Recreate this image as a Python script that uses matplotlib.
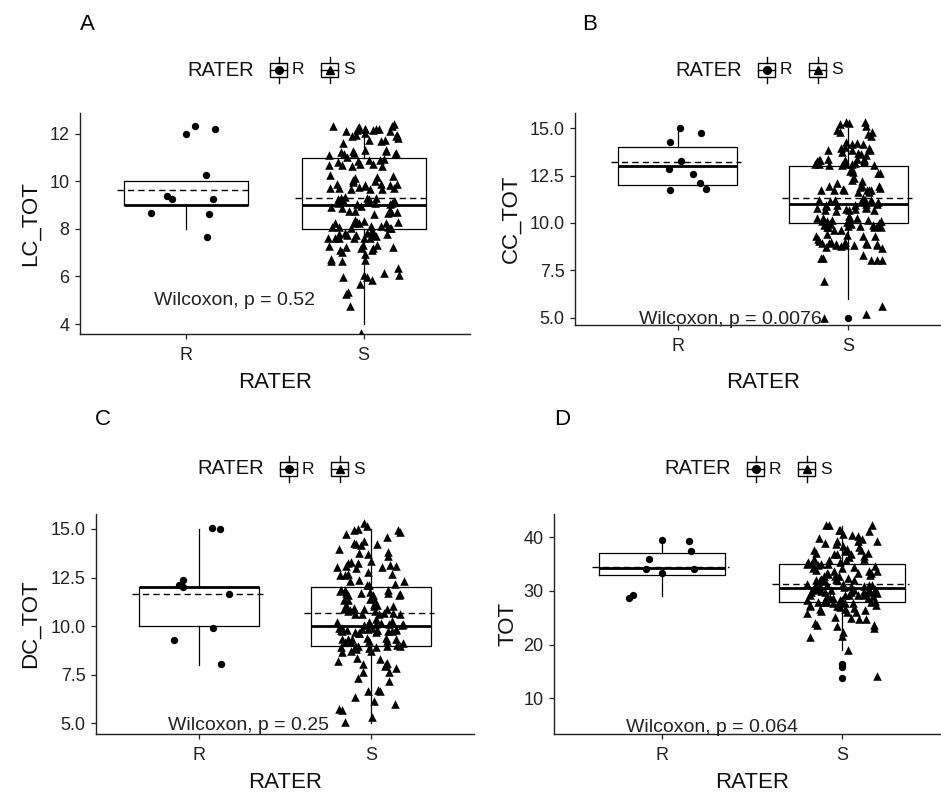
import numpy as np
import matplotlib
matplotlib.use('Agg')
import matplotlib.pyplot as plt
from matplotlib.lines import Line2D
from matplotlib.patches import Rectangle

plt.rcParams['font.family'] = ['Liberation Sans', 'DejaVu Sans']

W, H = 941, 796

categories = ['R', 'S']
panel_letters = ['A', 'B', 'C', 'D']
y_titles = ['LC_TOT', 'CC_TOT', 'DC_TOT', 'TOT']
p_labels = ['Wilcoxon, p = 0.52', 'Wilcoxon, p = 0.0076',
            'Wilcoxon, p = 0.25', 'Wilcoxon, p = 0.064']

# Rater R observations (jittered values as read)
lc_r = [12.34, 12.22, 10.26, 9.38, 9.25, 9.25, 8.69, 8.63, 7.68]
cc_r = [14.77, 15.0, 14.28, 13.29, 12.59, 12.84, 12.11, 11.80, 11.74]
dc_r = [15.0, 15.07, 12.12, 11.99, 11.66, 12.35, 9.92, 9.30, 8.07]
tot_r = [39.55, 39.31, 37.32, 35.9, 34.1, 34.1, 33.35, 29.25, 28.63]

# Rater S integer scores: levels and counts
lc_s_levels = [4, 5, 6, 7, 8, 9, 10, 11, 12]
lc_s_counts = [1, 3, 8, 15, 32, 26, 20, 22, 23]
cc_s_levels = [5, 6, 7, 8, 9, 10, 11, 12, 13, 14, 15]
cc_s_counts = [2, 1, 1, 6, 22, 30, 24, 18, 22, 14, 10]
dc_s_levels = [5, 6, 7, 8, 9, 10, 11, 12, 13, 14, 15]
dc_s_counts = [2, 5, 5, 10, 25, 30, 22, 18, 15, 10, 8]
tot_s_levels = [14, 19, 21, 22, 23, 24, 25, 26, 27, 28, 29, 30, 31, 32, 33,
                34, 35, 36, 37, 38, 39, 40, 41, 42]
tot_s_counts = [1, 1, 1, 2, 2, 3, 4, 5, 8, 12, 12, 14, 12, 8, 8,
                7, 8, 6, 6, 5, 5, 4, 4, 3]

# Box statistics [whisker low, Q1, median, Q3, whisker high], means, outliers
lc_box_r, lc_box_s = [8, 9, 9, 10, 10], [4, 8, 9, 11, 12]
cc_box_r, cc_box_s = [12, 12, 13, 14, 15], [6, 10, 11, 13, 15]
dc_box_r, dc_box_s = [8, 10, 12, 12, 15], [5, 9, 10, 12, 15]
tot_box_r, tot_box_s = [29, 33, 34.3, 37, 40], [19, 28, 30.6, 35, 42]
lc_mean, cc_mean, dc_mean, tot_mean = [9.66, 9.3], [13.22, 11.32], [11.66, 10.69], [34.5, 31.3]
lc_out_r, lc_out_s = [12.0], []
cc_out_r, cc_out_s = [], [5.0]
dc_out_r, dc_out_s = [], []
tot_out_r, tot_out_s = [], [16.3, 15.85, 13.85]

y_ticks = [[4, 6, 8, 10, 12], [5.0, 7.5, 10.0, 12.5, 15.0],
           [5.0, 7.5, 10.0, 12.5, 15.0], [10, 20, 30, 40]]
y_ticklabels = [['4', '6', '8', '10', '12'], ['5.0', '7.5', '10.0', '12.5', '15.0'],
                ['5.0', '7.5', '10.0', '12.5', '15.0'], ['10', '20', '30', '40']]
y_limits = [(3.58, 12.88), (4.61, 15.81), (4.45, 15.77), (3.35, 44.3)]
p_pos = [(1.27, 4.97), (1.31, 4.88), (1.29, 4.91), (1.28, 4.65)]

panels = [
    (lc_r, lc_s_levels, lc_s_counts, lc_box_r, lc_box_s, lc_mean, lc_out_r, lc_out_s),
    (cc_r, cc_s_levels, cc_s_counts, cc_box_r, cc_box_s, cc_mean, cc_out_r, cc_out_s),
    (dc_r, dc_s_levels, dc_s_counts, dc_box_r, dc_box_s, dc_mean, dc_out_r, dc_out_s),
    (tot_r, tot_s_levels, tot_s_counts, tot_box_r, tot_box_s, tot_mean, tot_out_r, tot_out_s),
]

# layout in pixels: left, top, right, bottom
axes_px = [(80, 113, 470, 334), (575, 113, 951, 325),
           (96, 514, 474, 734), (554, 514, 950, 734)]
letter_px = [(87, 25), (590, 25), (103, 420), (562, 420)]
legend_cy = [70, 70, 469, 469]
ylabel_x = [30, 511, 30, 508]
xlabel_y = [383, 383, 782, 782]

fig = plt.figure(figsize=(W / 100, H / 100), dpi=100)


def fx(x):
    return x / W


def fy(y):
    return 1 - y / H


def draw_legend(cx, cy):
    x0 = cx - 88
    fig.text(fx(x0), fy(cy), 'RATER', ha='left', va='center', fontsize=14.5, color='#111')
    for i, (mk, lab) in enumerate([('o', 'R'), ('^', 'S')]):
        bx = x0 + 83 + i * 51
        fig.add_artist(Rectangle((fx(bx), fy(cy + 7)), 17 / W, 14 / H,
                                 transform=fig.transFigure, fill=False, lw=1, ec='black'))
        fig.add_artist(Line2D([fx(bx + 8.5)] * 2, [fy(cy - 13), fy(cy - 7)],
                              transform=fig.transFigure, lw=1, color='black'))
        fig.add_artist(Line2D([fx(bx + 8.5)] * 2, [fy(cy + 7), fy(cy + 13)],
                              transform=fig.transFigure, lw=1, color='black'))
        fig.add_artist(Line2D([fx(bx), fx(bx + 17)], [fy(cy)] * 2,
                              transform=fig.transFigure, lw=1, color='black'))
        fig.add_artist(Line2D([fx(bx + 8.5)], [fy(cy)], marker=mk, ms=5.5, color='black',
                              lw=0, transform=fig.transFigure))
        fig.text(fx(bx + 22), fy(cy), lab, ha='left', va='center', fontsize=12.5, color='#111')


rng = np.random.default_rng(7)

for k, (r_vals, s_lv, s_ct, box_r, box_s, means, out_r, out_s) in enumerate(panels):
    l, t, r, b = axes_px[k]
    ax = fig.add_axes([fx(l), fy(b), (r - l) / W, (b - t) / H])
    ax.set_xlim(0.4, 2.6)
    ax.set_ylim(*y_limits[k])

    stats = []
    for bs in (box_r, box_s):
        stats.append(dict(whislo=bs[0], q1=bs[1], med=bs[2], q3=bs[3], whishi=bs[4], fliers=[]))
    ax.bxp(stats, positions=[1, 2], widths=0.7, showfliers=False, showcaps=False,
           boxprops=dict(color='black', lw=0.9),
           whiskerprops=dict(color='black', lw=0.9),
           medianprops=dict(color='black', lw=2.0), zorder=2)

    # mean lines
    for pos, m in zip([1, 2], means):
        ax.plot([pos - 0.39, pos + 0.37], [m, m], color='black', lw=1.0,
                linestyle=(0, (4.5, 3)), zorder=2.5)

    # outliers
    for pos, outs in zip([1, 2], [out_r, out_s]):
        if outs:
            ax.scatter([pos] * len(outs), outs, marker='o', s=28, color='black',
                       linewidths=0, zorder=3)

    # jittered points
    xr = 1 + rng.uniform(-0.2, 0.2, len(r_vals))
    ax.scatter(xr, r_vals, marker='o', s=28, color='black', linewidths=0, zorder=3)
    s_vals = np.repeat(s_lv, s_ct).astype(float)
    xs = 2 + rng.uniform(-0.2, 0.2, len(s_vals))
    ys = s_vals + rng.uniform(-0.4, 0.4, len(s_vals))
    ax.scatter(xs, ys, marker='^', s=38, color='black', linewidths=0, zorder=3)

    ax.text(p_pos[k][0], p_pos[k][1], p_labels[k], ha='center', va='center',
            fontsize=14, color='#222', zorder=1)

    ax.set_xticks([1, 2])
    ax.set_xticklabels(categories)
    ax.set_yticks(y_ticks[k])
    ax.set_yticklabels(y_ticklabels[k])
    ax.tick_params(direction='out', length=3.5, width=0.9, labelsize=13,
                   colors='#222', pad=4)
    ax.tick_params(axis='x', pad=6)
    for side in ('top', 'right'):
        ax.spines[side].set_visible(False)
    for side in ('left', 'bottom'):
        ax.spines[side].set_linewidth(1.0)
        ax.spines[side].set_color('#222')
    ax.patch.set_alpha(0)

    fig.text(fx(ylabel_x[k]), fy((t + b) / 2), y_titles[k], rotation=90,
             ha='center', va='center', fontsize=16, color='#111')
    fig.text(fx((l + r) / 2), fy(xlabel_y[k]), 'RATER',
             ha='center', va='center', fontsize=16, color='#111')
    fig.text(fx(letter_px[k][0]), fy(letter_px[k][1]), panel_letters[k],
             ha='center', va='center', fontsize=16, color='black')
    draw_legend((l + r) / 2, legend_cy[k])

fig.savefig('out.png', dpi=100)
